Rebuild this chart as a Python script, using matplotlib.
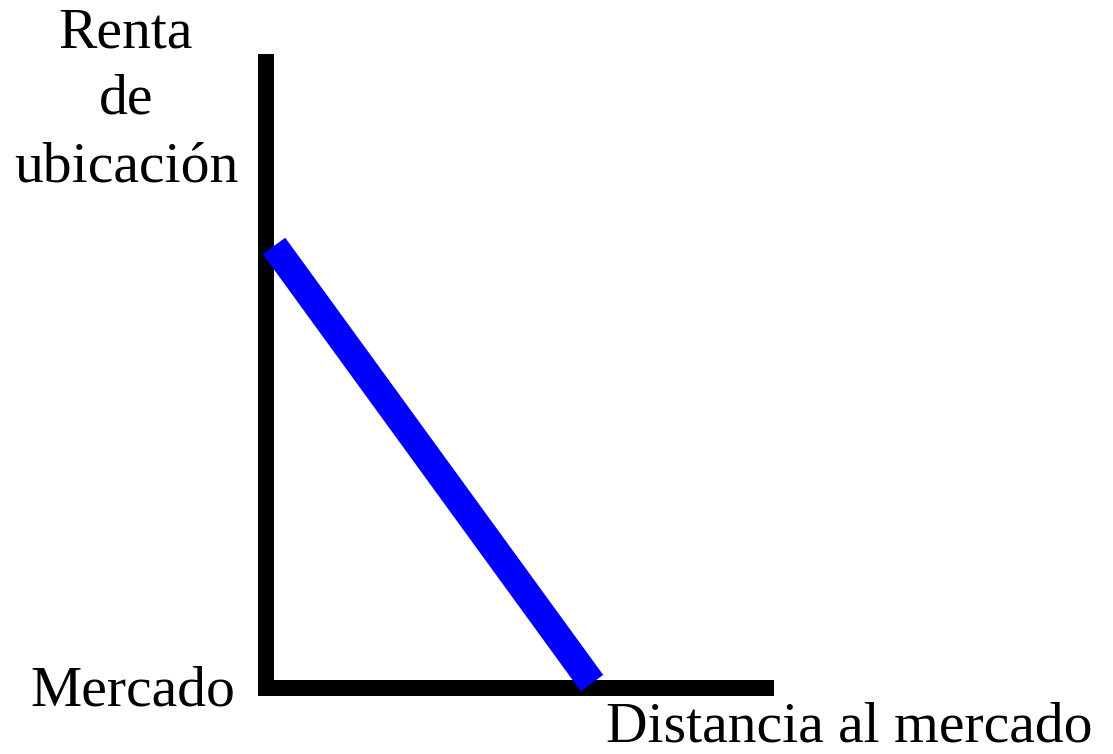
import matplotlib
matplotlib.use("Agg")
from matplotlib import pyplot as plt

# renta de ubicacion vs distancia (ejes 0-10)
distancia = [0.16, 6.52]
renta = [7.06, 0.07]

ylabel_lines = ["Renta", "de", "ubicación"]
origin_label = "Mercado"
xlabel = "Distancia al mercado"

plt.rcParams['font.family'] = ['Liberation Serif', 'DejaVu Serif']

W, H = 1113, 754
fig = plt.figure(figsize=(W / 100, H / 100), dpi=100)

# axes placed so the thick spines sit like in the drawing
ax = fig.add_axes([266 / W, 1 - 687.5 / H, 500 / W, 625.5 / H])
ax.set_xlim(0, 10)
ax.set_ylim(0, 10)
ax.set_xticks([])
ax.set_yticks([])
for side in ['top', 'right']:
    ax.spines[side].set_visible(False)
for side in ['left', 'bottom']:
    ax.spines[side].set_linewidth(11.5)
    ax.spines[side].set_capstyle('projecting')
    ax.spines[side].set_color('black')

ax.plot(distancia, renta, color='#0000ff', lw=20, solid_capstyle='butt',
        zorder=3, clip_on=False)

fs = 41.5
for txt, base in zip(ylabel_lines, [47, 113, 182]):
    fig.text(126 / W, 1 - base / H, txt, ha='center', va='baseline', fontsize=fs)
fig.text(133 / W, 1 - 705 / H, origin_label, ha='center', va='baseline', fontsize=fs)
fig.text(849.5 / W, 1 - 741 / H, xlabel, ha='center', va='baseline', fontsize=fs)

fig.savefig("out.png", dpi=100)
